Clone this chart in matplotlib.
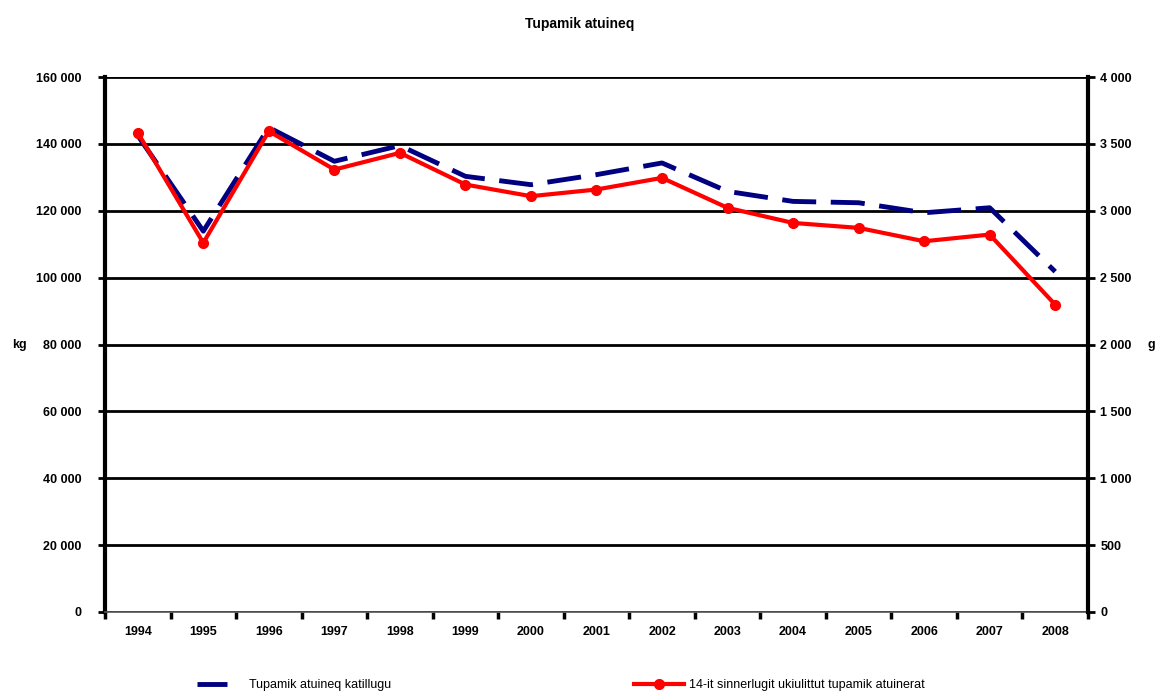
import matplotlib
matplotlib.use("Agg")
import matplotlib.pyplot as plt
import numpy as np
from matplotlib.ticker import FuncFormatter, MultipleLocator, FixedLocator

years = ["1994", "1995", "1996", "1997", "1998", "1999", "2000", "2001",
         "2002", "2003", "2004", "2005", "2006", "2007", "2008"]
total_kg = [142500, 113900, 144900, 134800, 139500, 130300, 127800, 130800,
            134300, 125800, 122800, 122400, 119400, 120900, 101800]
per_person_g = [3583, 2760, 3595, 3308, 3433, 3196, 3109, 3159,
                3246, 3022, 2909, 2872, 2772, 2822, 2298]

title = "Tupamik atuineq"
label_total = "Tupamik atuineq katillugu"
label_person = "14-it sinnerlugit ukiulittut tupamik atuinerat"

plt.rcParams['font.family'] = ['Liberation Sans', 'DejaVu Sans']

fig = plt.figure(figsize=(11.59, 6.99), dpi=100)
ax = fig.add_axes([0.0906, 0.1245, 0.8481, 0.7653])
ax2 = ax.twinx()

x = np.arange(len(years))

def sp(v, pos):
    return f"{int(v):,}".replace(",", " ")

ax.set_ylim(0, 160000)
ax.yaxis.set_major_locator(MultipleLocator(20000))
ax.yaxis.set_major_formatter(FuncFormatter(sp))
ax2.set_ylim(0, 4000)
ax2.yaxis.set_major_locator(MultipleLocator(500))
ax2.yaxis.set_major_formatter(FuncFormatter(sp))

ax.set_xlim(-0.5, len(years) - 0.5)
ax.set_xticks(x)
ax.set_xticklabels(years)
ax.xaxis.set_minor_locator(FixedLocator(np.arange(-0.5, len(years), 1.0)))
ax.tick_params(axis='x', which='major', length=0, pad=10)
ax.tick_params(axis='x', which='minor', length=5, width=2.5, color='black')
ax.tick_params(axis='y', length=5, width=2, pad=12)
ax2.tick_params(axis='y', length=5, width=2, pad=4)

for a in (ax, ax2):
    for lab in a.get_yticklabels() + a.get_xticklabels():
        lab.set_fontsize(9)
        lab.set_fontweight('bold')

ax.grid(axis='y', color='black', linewidth=2)
ax.set_axisbelow(True)

for s in ['top']:
    ax.spines[s].set_visible(False)
    ax2.spines[s].set_visible(False)
ax.spines['left'].set_linewidth(3)
ax2.spines['right'].set_linewidth(3)
ax2.spines['left'].set_visible(False)
ax.spines['right'].set_visible(False)
ax.spines['bottom'].set_linewidth(1.2)
ax.spines['bottom'].set_color('#555555')
ax2.spines['bottom'].set_visible(False)

l1, = ax.plot(x, total_kg, color='#000080', linewidth=3.5,
              linestyle=(0, (7, 3)), label=label_total, zorder=3)
l2, = ax2.plot(x, per_person_g, color='#ff0000', linewidth=3,
               marker='o', markersize=7, label=label_person, zorder=4)

ax.set_ylabel("kg", fontsize=9, fontweight='bold', rotation=0, labelpad=12, va='center')
ax2.set_ylabel("g", fontsize=9, fontweight='bold', rotation=0, labelpad=14, va='center')

fig.suptitle(title, y=0.975, fontsize=10, fontweight='bold')

leg1 = fig.legend(handles=[l1], loc='lower left', bbox_to_anchor=(0.160, -0.005),
                  frameon=False, fontsize=9, handlelength=2.4, handletextpad=1.8)
leg2 = fig.legend(handles=[l2], loc='lower left', bbox_to_anchor=(0.537, -0.005),
                  frameon=False, fontsize=9, handlelength=4.0, handletextpad=0.4)

fig.savefig("out.png", dpi=100)
